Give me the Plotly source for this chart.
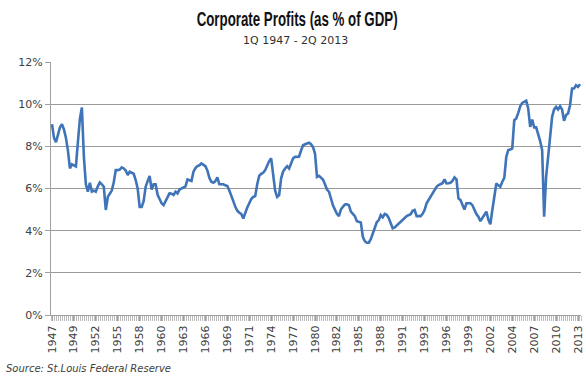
import plotly.graph_objects as go

years = list(range(1947, 2014))
quarters = [f"{q}Q {y}" for y in years for q in (1, 2, 3, 4)][:266]

profits_pct = [
    9.05, 8.4, 8.2, 8.6,        # 1947
    8.9, 9.05, 8.8, 8.4,        # 1948
    7.8, 6.95, 7.15, 7.1,       # 1949
    7.05, 8.2, 9.3, 9.84,       # 1950
    7.5, 6.2, 5.85, 6.27,       # 1951
    5.85, 5.9, 5.85, 6.1,       # 1952
    6.29, 6.2, 6.08, 4.98,      # 1953
    5.6, 5.75, 5.9, 6.3,        # 1954
    6.87, 6.87, 6.9, 7.0,       # 1955
    6.95, 6.85, 6.64, 6.8,      # 1956
    6.75, 6.7, 6.4, 6.0,        # 1957
    5.13, 5.13, 5.4, 6.08,      # 1958
    6.35, 6.59, 5.95, 6.2,      # 1959
    6.2, 5.7, 5.5, 5.3,         # 1960
    5.21, 5.4, 5.6, 5.77,       # 1961
    5.75, 5.69, 5.85, 5.77,     # 1962
    5.95, 6.0, 6.05, 6.1,       # 1963
    6.43, 6.4, 6.36, 6.8,       # 1964
    6.97, 7.06, 7.1, 7.19,      # 1965
    7.12, 7.06, 6.85, 6.5,      # 1966
    6.32, 6.27, 6.35, 6.53,     # 1967
    6.2, 6.2, 6.2, 6.15,        # 1968
    6.12, 5.9, 5.6, 5.4,        # 1969
    5.13, 4.95, 4.85, 4.79,     # 1970
    4.58, 4.9, 5.1, 5.3,        # 1971
    5.5, 5.6, 5.64, 6.2,        # 1972
    6.6, 6.7, 6.75, 6.87,       # 1973
    7.1, 7.3, 7.43, 6.55,       # 1974
    5.9, 5.6, 5.69, 6.48,       # 1975
    6.8, 6.95, 7.06, 6.95,      # 1976
    7.2, 7.43, 7.5, 7.51,       # 1977
    7.51, 7.8, 8.05, 8.1,       # 1978
    8.14, 8.17, 8.1, 7.96,      # 1979
    7.66, 6.55, 6.6, 6.5,       # 1980
    6.43, 6.2, 5.95, 5.85,      # 1981
    5.5, 5.2, 5.0, 4.8,         # 1982
    4.69, 5.0, 5.13, 5.24,      # 1983
    5.25, 5.21, 4.9, 4.8,       # 1984
    4.69, 4.45, 4.42, 4.39,     # 1985
    3.71, 3.5, 3.43, 3.43,      # 1986
    3.6, 3.9, 4.19, 4.4,        # 1987
    4.5, 4.74, 4.63, 4.79,      # 1988
    4.75, 4.6, 4.35, 4.11,      # 1989
    4.15, 4.25, 4.31, 4.4,      # 1990
    4.5, 4.6, 4.69, 4.74,       # 1991
    4.78, 4.94, 4.98, 4.69,     # 1992
    4.69, 4.69, 4.8, 4.98,      # 1993
    5.3, 5.45, 5.64, 5.8,       # 1994
    5.9, 6.08, 6.16, 6.2,       # 1995
    6.25, 6.43, 6.24, 6.25,     # 1996
    6.27, 6.36, 6.53, 6.43,     # 1997
    5.53, 5.45, 5.2, 5.0,       # 1998
    5.3, 5.3, 5.3, 5.21,        # 1999
    4.95, 4.79, 4.66, 4.45,     # 2000
    4.6, 4.74, 4.9, 4.53,       # 2001
    4.3, 4.98, 5.6, 6.24,       # 2002
    6.15, 6.08, 6.32, 6.5,      # 2003
    7.5, 7.82, 7.85, 7.9,       # 2004
    9.24, 9.32, 9.59, 9.9,      # 2005
    10.06, 10.1, 10.16, 9.8,    # 2006
    8.92, 9.27, 8.9, 8.9,       # 2007
    8.6, 8.25, 7.82, 4.66,      # 2008
    6.55, 7.66, 8.45, 9.4,      # 2009
    9.75, 9.87, 9.75, 9.9,      # 2010
    9.75, 9.21, 9.48, 9.56,     # 2011
    9.95, 10.74, 10.74, 10.9,   # 2012
    10.82, 10.95,               # 2013
]
if len(profits_pct) != 266:
    raise SystemExit(f"count {len(profits_pct)}")

tick_positions = list(range(0, 266, 11))
tick_labels = [str(1947 + (i // 4)) for i in tick_positions]
y_ticks = [0, 2, 4, 6, 8, 10, 12]
y_labels = [f"{v}%" for v in y_ticks]

x_index = list(range(len(profits_pct)))

PLOT_L, PLOT_R, PLOT_T, PLOT_B = 51, 581, 62, 315
PW = PLOT_R - PLOT_L
PH = PLOT_B - PLOT_T

fig = go.Figure(
    data=[go.Scatter(
        x=x_index, y=profits_pct, mode="lines",
        line=dict(color="#3f74b8", width=2.6),
        text=quarters, hoverinfo="text+y",
    )],
    layout=go.Layout(
        width=586, height=381,
        margin=dict(l=PLOT_L, r=586 - PLOT_R, t=PLOT_T, b=381 - PLOT_B, pad=0, autoexpand=False),
        paper_bgcolor="white", plot_bgcolor="white",
        showlegend=False,
        font=dict(family="DejaVu Sans", size=11, color="#404040"),
        xaxis=dict(
            range=[-0.5, 265.5], automargin=False,
            tickmode="array", tickvals=tick_positions, ticktext=tick_labels,
            tickangle=-90, tickfont=dict(family="DejaVu Sans", size=11, color="#404040"),
            ticks="outside", ticklen=5, tickcolor="#a0a0a0",
            minor=dict(tickmode="linear", dtick=1, tick0=-0.5, ticks="outside", ticklen=5,
                       tickcolor="#bcbcbc", showgrid=False),
            showline=True, linecolor="#a0a0a0", linewidth=1,
            showgrid=False, zeroline=False,
        ),
        yaxis=dict(
            range=[0, 12], automargin=False,
            tickmode="array", tickvals=y_ticks, ticktext=y_labels,
            tickfont=dict(family="DejaVu Sans", size=11, color="#404040"),
            ticks="outside", ticklen=5, tickcolor="#a0a0a0",
            showline=True, linecolor="#a0a0a0", linewidth=1,
            showgrid=True, gridcolor="#9a9a9a", gridwidth=1, griddash="solid",
            zeroline=False,
        ),
    ),
)

fig.add_annotation(
    text="<b>Corporate Profits (as % of GDP)</b>", xref="paper", yref="paper",
    x=(297 - PLOT_L) / PW, y=1 + (PLOT_T - 19) / PH,
    xanchor="center", yanchor="middle", showarrow=False,
    font=dict(family="Liberation Sans Narrow, Liberation Sans, Arial, sans-serif", size=20, color="#111111"),
)
fig.add_annotation(
    text="1Q 1947 - 2Q 2013", xref="paper", yref="paper",
    x=(295 - PLOT_L) / PW, y=1 + (PLOT_T - 40) / PH,
    xanchor="center", yanchor="middle", showarrow=False,
    font=dict(family="DejaVu Sans", size=11, color="#303030"),
)
fig.add_annotation(
    text="<i>Source: St.Louis Federal Reserve</i>", xref="paper", yref="paper",
    x=(4 - PLOT_L) / PW, y=-(368 - PLOT_B) / PH,
    xanchor="left", yanchor="middle", showarrow=False,
    font=dict(family="DejaVu Sans", size=10, color="#404040"),
)

post = """
document.body.style.margin='0';document.body.style.padding='0';document.body.style.overflow='hidden';
var gd = document.getElementById('{plot_id}');
gd.querySelectorAll('.annotation-text').forEach(function(t){
  if (t.textContent.indexOf('Corporate') === 0) {
    t.setAttribute('textLength', '201');
    t.setAttribute('lengthAdjust', 'spacingAndGlyphs');
  }
});
"""

fig.write_html("out.html", config={"displayModeBar": False}, post_script=post)
